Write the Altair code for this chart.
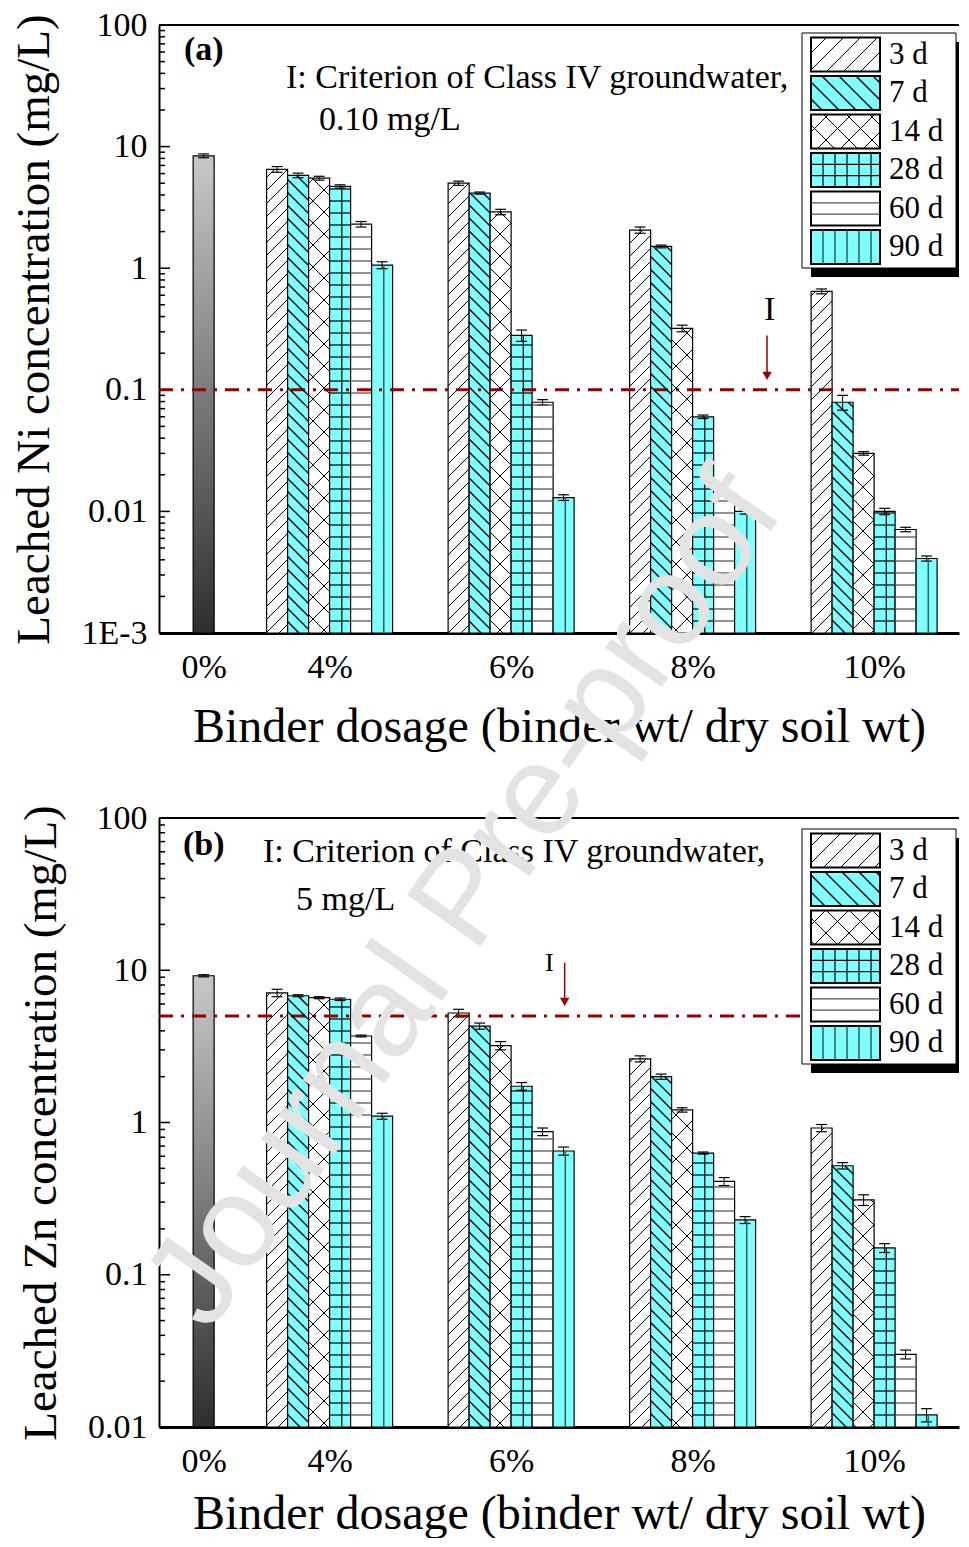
import math
import altair as alt
import pandas as pd

# ---------------- data ----------------
AGES = ["3 d", "7 d", "14 d", "28 d", "60 d", "90 d"]
DOSAGES = ["4%", "6%", "8%", "10%"]

# Leached Ni (mg/L)
ni_control = 8.4
ni_control_err = 0.3
ni_4 = [6.5, 5.8, 5.5, 4.7, 2.3, 1.06]
ni_6 = [5.0, 4.15, 2.9, 0.28, 0.079, 0.013]
ni_8 = [2.06, 1.51, 0.32, 0.060, 0.0139, 0.0100]
ni_10 = [0.645, 0.079, 0.030, 0.0100, 0.0071, 0.0041]
ni_err_4 = [0.35, 0.25, 0.2, 0.15, 0.12, 0.07]
ni_err_6 = [0.2, 0.08, 0.15, 0.03, 0.004, 0.0007]
ni_err_8 = [0.12, 0.04, 0.02, 0.002, 0.0004, 0.0005]
ni_err_10 = [0.03, 0.011, 0.001, 0.0006, 0.0003, 0.0002]

# Leached Zn (mg/L)
zn_control = 9.2
zn_control_err = 0.15
zn_4 = [7.1, 6.8, 6.6, 6.45, 3.7, 1.10]
zn_6 = [5.24, 4.3, 3.2, 1.73, 0.87, 0.65]
zn_8 = [2.62, 2.0, 1.21, 0.63, 0.41, 0.229]
zn_10 = [0.92, 0.52, 0.31, 0.150, 0.030, 0.012]
zn_err_4 = [0.4, 0.1, 0.1, 0.12, 0.05, 0.05]
zn_err_6 = [0.3, 0.2, 0.2, 0.1, 0.05, 0.04]
zn_err_8 = [0.12, 0.08, 0.04, 0.01, 0.025, 0.012]
zn_err_10 = [0.05, 0.025, 0.025, 0.01, 0.002, 0.0012]

ni_threshold = 0.1
zn_threshold = 5.0

# ---------------- style / layout ----------------
CYAN = "#80ffff"
FILLS = ["white", CYAN, "white", CYAN, "white", CYAN]
RED = "#990000"
SERIF = "Liberation Serif"
W = 800
X_DOMAIN = [1.06, 1.06 + W / 181.5]
CTRL_POS = 1.306
BAR_W = 0.1157
CAP = 0.03
RIGHT = W + 6  # reference frame edge used to anchor the legend

# hatch styles (pattern, line colour, line width)
BAR_HATCH = {
    "3 d": ([("fwd", 13)], "black", 1.0),
    "7 d": ([("back", 13)], "black", 1.4),
    "14 d": ([("fwd", 22), ("back", 22)], "black", 1.0),
    "28 d": ([("h", 12), ("vfrac", 0.58)], "black", 1.2),
    "60 d": ([("h", 12)], "#555555", 1.3),
    "90 d": ([("vfrac", 0.58)], "#2d5f5f", 1.5),
}
LEG_HATCH = {
    "3 d": [("fwd", 17)],
    "7 d": [("back", 17)],
    "14 d": [("fwd", 23), ("back", 23)],
    "28 d": [("h", 11.3), ("v", 12)],
    "60 d": [("h", 11.3)],
    "90 d": [("v", 12)],
}


def hatch(x0, x1, y0, y1, pats):
    out = []
    for kind, s in pats:
        if kind == "fwd":
            c = math.ceil((x0 + y0) / s) * s
            while c <= x1 + y1:
                xa, xb = max(x0, c - y1), min(x1, c - y0)
                if xb - xa > 0.8:
                    out.append((xa, c - xa, xb, c - xb))
                c += s
        elif kind == "back":
            c = math.ceil((y0 - x1) / s) * s
            while c <= y1 - x0:
                xa, xb = max(x0, y0 - c), min(x1, y1 - c)
                if xb - xa > 0.8:
                    out.append((xa, xa + c, xb, xb + c))
                c += s
        elif kind == "h":
            y = y1 - s
            while y > y0 + 1.5:
                out.append((x0, y, x1, y))
                y -= s
        elif kind == "v":
            x = x0 + s
            while x < x1 - 1.5:
                out.append((x, y0, x, y1))
                x += s
        elif kind == "vfrac":
            x = x0 + s * (x1 - x0)
            out.append((x, y0, x, y1))
    return out


def build_df(groups, errs):
    rows = []
    for gi, (vals, es) in enumerate(zip(groups, errs)):
        center = 2 + gi
        for si, (v, e) in enumerate(zip(vals, es)):
            cx = center + (si - 2.5) * BAR_W
            rows.append(dict(age=AGES[si], dosage=DOSAGES[gi], value=v, err=e,
                             cx=cx, x=cx - BAR_W / 2, x2=cx + BAR_W / 2,
                             lo=v - e, hi=v + e, cl=cx - CAP, cr=cx + CAP))
    return pd.DataFrame(rows)


def one():
    return pd.DataFrame({"a": [0]})


def text_mark(txt, px, py, size=34, weight="normal", align="left", color="black"):
    return alt.Chart(one()).mark_text(
        text=txt, align=align, baseline="middle", font=SERIF, fontSize=size,
        fontWeight=weight, color=color
    ).encode(x=alt.value(px), y=alt.value(py))


def panel(groups, errs, ctrl, ctrl_err, ymin, H, ylab, threshold, tag, tag_pos,
          line1, line1_pos, line2, line2_pos, arrow, leg_top, title_pad, extra=None):
    df = build_df(groups, errs)
    ctrl_df = pd.DataFrame([dict(value=ctrl, cx=CTRL_POS, x=CTRL_POS - BAR_W / 2,
                                 x2=CTRL_POS + BAR_W / 2, lo=ctrl - ctrl_err,
                                 hi=ctrl + ctrl_err, cl=CTRL_POS - CAP, cr=CTRL_POS + CAP)])
    err_df = pd.concat([df, ctrl_df], ignore_index=True)

    dec = 2 - math.log10(ymin)
    span = X_DOMAIN[1] - X_DOMAIN[0]

    def px(xv):
        return (xv - X_DOMAIN[0]) / span * W

    def py(yv):
        return (2 - math.log10(yv)) / dec * H

    def xd(p):
        return X_DOMAIN[0] + p / W * span

    def yd(p):
        return 10 ** (2 - p / H * dec)

    xs = alt.Scale(domain=X_DOMAIN, nice=False, zero=False)
    ys = alt.Scale(type="log", domain=[ymin, 100], nice=False)
    e0 = int(round(math.log10(ymin)))
    majors = [10.0 ** e for e in range(e0, 3)]
    minors = [m * 10.0 ** e for e in range(e0, 2) for m in range(2, 10)]

    x_axis = alt.Axis(
        values=[CTRL_POS, 2, 3, 4, 5],
        labelExpr="datum.value < 1.5 ? '0%' : (2 * datum.value) + '%'",
        ticks=False, grid=False, domainWidth=3, labelFontSize=34,
        labelPadding=17, title="Binder dosage (binder wt/ dry soil wt)",
        titleFontSize=48, titlePadding=title_pad)
    y_axis = alt.Axis(
        values=majors,
        labelExpr="datum.value < 0.005 ? '1E-3' : '' + datum.value",
        ticks=False, grid=False, domainWidth=2, labelFontSize=34,
        labelPadding=12, title=ylab, titleFontSize=47, titlePadding=22)

    def X(f):
        return alt.X(f, scale=xs, axis=x_axis)

    def Y(f):
        return alt.Y(f, scale=ys, axis=y_axis)

    fill_scale = alt.Scale(domain=AGES, range=FILLS)

    bars = alt.Chart(df).mark_bar(stroke="black", strokeWidth=1.2).encode(
        x=X("x:Q"), x2="x2:Q", y=Y("value:Q"), y2=alt.datum(ymin),
        fill=alt.Fill("age:N", scale=fill_scale, legend=None))

    # hatching of the bars (pattern fills drawn as thin lines)
    hrows = []
    for r in df.itertuples():
        pats, col, sw = BAR_HATCH[r.age]
        for (a, b, c, d) in hatch(px(r.x), px(r.x2), py(r.value), H, pats):
            hrows.append(dict(hx=xd(a), hy=yd(b), hx2=xd(c), hy2=yd(d), col=col, sw=sw))

    # legend (drawn as marks so the swatches can carry the hatching)
    lx0, lx1 = RIGHT - 163, RIGHT - 9
    ly0, ly1 = leg_top, leg_top + 235
    sx0, sx1 = RIGHT - 154, RIGHT - 85
    leg_rows, lab_rows = [], []
    for i, age in enumerate(AGES):
        t = leg_top + 4.5 + i * 38.5
        b = t + 34
        leg_rows.append(dict(age=age, x=xd(sx0), x2=xd(sx1), y=yd(t), y2=yd(b)))
        lab_rows.append(dict(age=age, x=xd(RIGHT - 76), y=yd(t + 17)))
        _, col, sw = BAR_HATCH[age]
        for (a, bb, c, d) in hatch(sx0, sx1, t, b, LEG_HATCH[age]):
            hrows.append(dict(hx=xd(a), hy=yd(bb), hx2=xd(c), hy2=yd(d), col=col, sw=sw))
    hdf = pd.DataFrame(hrows)
    legdf = pd.DataFrame(leg_rows)
    labdf = pd.DataFrame(lab_rows)

    hatch_layer = alt.Chart(hdf).mark_rule().encode(
        x=X("hx:Q"), x2="hx2:Q", y=Y("hy:Q"), y2="hy2:Q",
        color=alt.Color("col:N", scale=None),
        strokeWidth=alt.StrokeWidth("sw:Q", scale=None))

    grad = alt.LinearGradient(gradient="linear", x1=0, x2=0, y1=0, y2=1,
                              stops=[alt.GradientStop(color="#c8c8c8", offset=0),
                                     alt.GradientStop(color="#2e2e2e", offset=1)])
    ctrl_bar = alt.Chart(ctrl_df).mark_bar(fill=grad, stroke="black", strokeWidth=1.2).encode(
        x=X("x:Q"), x2="x2:Q", y=Y("value:Q"), y2=alt.datum(ymin))

    err_v = alt.Chart(err_df).mark_rule(color="black", strokeWidth=1).encode(
        x=X("cx:Q"), y=Y("lo:Q"), y2="hi:Q")
    err_hi = alt.Chart(err_df).mark_rule(color="black", strokeWidth=1.2).encode(
        x=X("cl:Q"), x2="cr:Q", y=Y("hi:Q"))
    err_lo = alt.Chart(err_df).mark_rule(color="black", strokeWidth=1.2).encode(
        x=X("cl:Q"), x2="cr:Q", y=Y("lo:Q"))

    major_ticks = alt.Chart(pd.DataFrame({"v": majors})).mark_rule(
        color="black", strokeWidth=1.5).encode(
        y=Y("v:Q"), x=alt.value(0), x2=alt.value(11))
    minor_ticks = alt.Chart(pd.DataFrame({"v": minors})).mark_rule(
        color="black", strokeWidth=1.5).encode(
        y=Y("v:Q"), x=alt.value(0), x2=alt.value(6))

    top_line = alt.Chart(one()).mark_rule(color="black", strokeWidth=2).encode(
        x=alt.value(0), x2=alt.value(W), y=alt.value(0))

    thr = alt.Chart(pd.DataFrame({"t": [threshold]})).mark_rule(
        color=RED, strokeWidth=3, strokeDash=[14, 8, 3, 8]).encode(
        y=Y("t:Q"), x=alt.value(0), x2=alt.value(W))

    adf = pd.DataFrame([arrow])
    arr_line = alt.Chart(adf).mark_rule(color=RED, strokeWidth=1.5).encode(
        x=X("ax:Q"), y=Y("ytop:Q"), y2="yhead:Q")
    arr_head = alt.Chart(adf).mark_point(shape="triangle-down", filled=True, size=90,
                                         color=RED, opacity=1).encode(
        x=X("ax:Q"), y=Y("yhead:Q"))
    arr_text = alt.Chart(adf).mark_text(text="I", font=SERIF, fontSize=arrow["fs"],
                                        baseline="middle", align="center", color="black").encode(
        x=X("tx:Q"), y=Y("ty:Q"))

    boxdf = pd.DataFrame([dict(x=xd(lx0), x2=xd(lx1), y=yd(ly0), y2=yd(ly1),
                               sx=xd(lx0 + 9), sx2=xd(W), sy=yd(ly0 + 9), sy2=yd(ly1 + 9))])
    shadow = alt.Chart(boxdf).mark_rect(color="black").encode(
        x=X("sx:Q"), x2="sx2:Q", y=Y("sy:Q"), y2="sy2:Q")
    box = alt.Chart(boxdf).mark_rect(fill="white", stroke="black", strokeWidth=1).encode(
        x=X("x:Q"), x2="x2:Q", y=Y("y:Q"), y2="y2:Q")
    swatches = alt.Chart(legdf).mark_rect(stroke="black", strokeWidth=2).encode(
        x=X("x:Q"), x2="x2:Q", y=Y("y:Q"), y2="y2:Q",
        fill=alt.Fill("age:N", scale=fill_scale, legend=None))
    labels = alt.Chart(labdf).mark_text(font=SERIF, fontSize=31, align="left",
                                        baseline="middle", color="black").encode(
        x=X("x:Q"), y=Y("y:Q"), text="age:N")

    layers = [bars, ctrl_bar, err_v, err_hi, err_lo, major_ticks, minor_ticks,
              top_line, thr, arr_line, arr_head, arr_text,
              text_mark(tag, tag_pos[0], tag_pos[1], size=34, weight="bold"),
              text_mark(line1, line1_pos[0], line1_pos[1]),
              text_mark(line2, line2_pos[0], line2_pos[1]),
              shadow, box, swatches, hatch_layer, labels]
    if extra is not None:
        layers += extra
    return alt.layer(*layers).properties(width=W, height=H)


panel_a = panel(
    [ni_4, ni_6, ni_8, ni_10], [ni_err_4, ni_err_6, ni_err_8, ni_err_10],
    ni_control, ni_control_err, 0.001, 608, "Leached Ni concentration (mg/L)",
    ni_threshold, "(a)", (25, 25),
    "I: Criterion of Class IV groundwater,", (127, 53), "0.10 mg/L", (160, 95),
    dict(ax=4.41, ytop=0.28, yhead=0.13, tx=4.425, ty=0.45, fs=34), leg_top=8,
    title_pad=19)

watermark = alt.Chart(one()).mark_text(
    text="Journal Pre-proof", font="Liberation Sans", fontSize=130, angle=305,
    align="center", baseline="middle", color="#e3e3e3"
).encode(x=alt.value(306), y=alt.value(82))

panel_b = panel(
    [zn_4, zn_6, zn_8, zn_10], [zn_err_4, zn_err_6, zn_err_8, zn_err_10],
    zn_control, zn_control_err, 0.01, 609, "Leached Zn concentration (mg/L)",
    zn_threshold, "(b)", (24, 27),
    "I: Criterion of Class IV groundwater,", (104, 34), "5 mg/L", (137, 82),
    dict(ax=3.295, ytop=11.2, yhead=6.2, tx=3.21, ty=11.2, fs=26), leg_top=11,
    title_pad=12, extra=[watermark])

chart = alt.vconcat(panel_a, panel_b, spacing=185, bounds="flush").resolve_scale(
    fill="independent", x="independent", y="independent"
).properties(
    padding={"left": 2, "top": 0, "right": 0, "bottom": 0}
).configure_view(stroke=None).configure_axis(
    labelFont=SERIF, titleFont=SERIF, titleFontWeight="normal",
    labelColor="black", titleColor="black", domainColor="black"
)

chart.save("out.html", embed_options={"renderer": "svg", "actions": False})
